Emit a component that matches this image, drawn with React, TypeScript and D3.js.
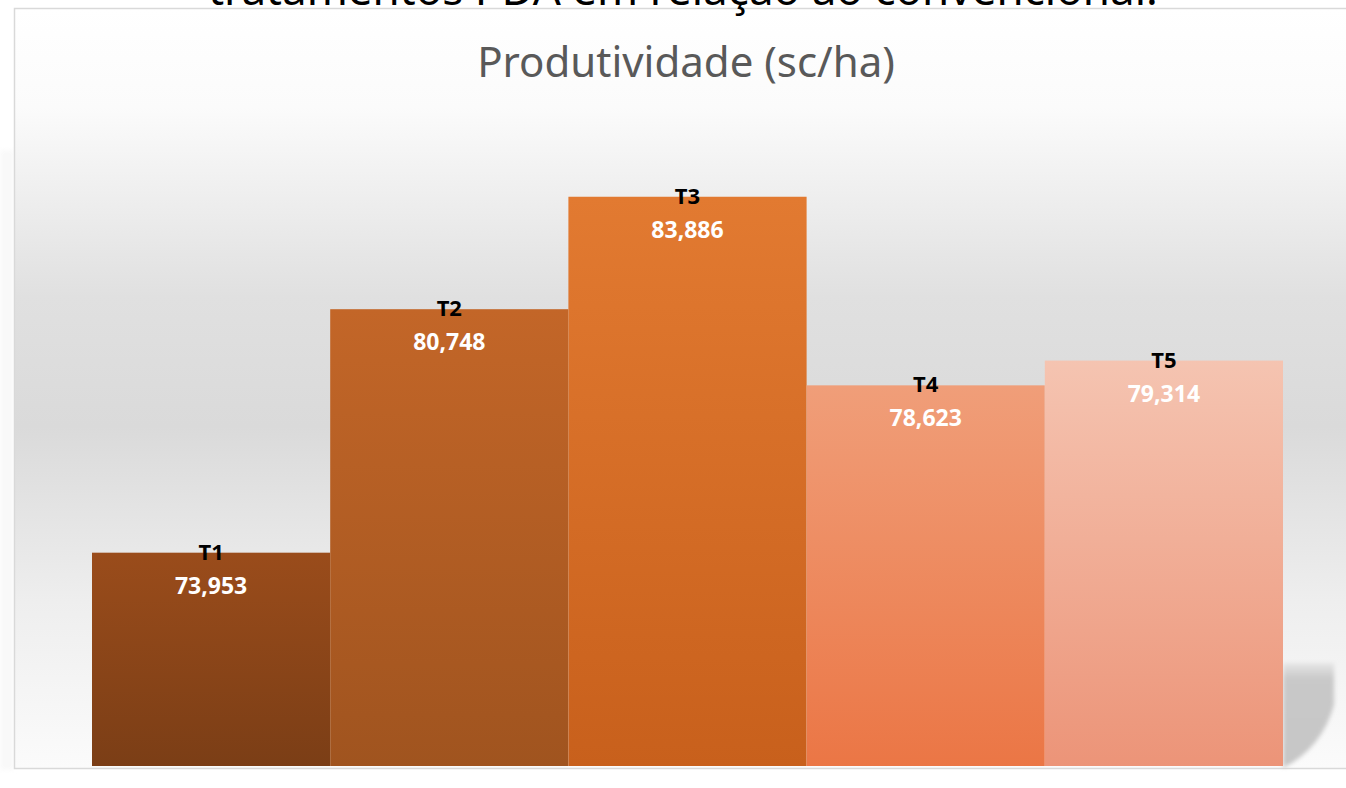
import * as React from 'react';
import * as d3 from 'd3';

const categories = ['T1', 'T2', 'T3', 'T4', 'T5'];
const values = [73.953, 80.748, 83.886, 78.623, 79.314];
const valueLabels = ['73,953', '80,748', '83,886', '78,623', '79,314'];
const topColors = ['#9a4c1b', '#c36628', '#e27a31', '#f09e79', '#f5c4b1'];
const bottomColors = ['#7b3e16', '#a0541f', '#c8601c', '#eb7645', '#ec9478'];

const W = 1346;
const H = 788;

export default function App() {
  const margins = {left: 92, right: 63, top: 121, bottom: 22};
  const x = d3.scaleBand<string>()
    .domain(categories)
    .range([margins.left, W - margins.right])
    .paddingInner(0)
    .paddingOuter(0);
  const y = d3.scaleLinear()
    .domain([68, 86])
    .range([H - margins.bottom, margins.top]);

  // curled-page shadow at the bottom right
  const shadow = d3.path();
  shadow.moveTo(1283, 663);
  shadow.lineTo(1334, 663);
  shadow.lineTo(1334, 705);
  shadow.quadraticCurveTo(1322, 748, 1283, 768);
  shadow.closePath();

  return (
    <div style={{position: 'fixed', left: 0, top: 0, width: W, height: H, overflow: 'hidden'}}>
      <svg width={W} height={H} style={{display: 'block'}}>
        <defs>
          <linearGradient id="bg" x1="0" y1="0" x2="0" y2="1">
            <stop offset="0" stopColor="#ffffff" />
            <stop offset="0.13" stopColor="#fbfbfb" />
            <stop offset="0.38" stopColor="#e0e0e0" />
            <stop offset="0.55" stopColor="#dadada" />
            <stop offset="0.78" stopColor="#eeeeee" />
            <stop offset="1" stopColor="#fbfbfb" />
          </linearGradient>
          <linearGradient id="shade" x1="0" y1="0" x2="0" y2="1">
            <stop offset="0" stopColor="#e6e6e6" />
            <stop offset="0.15" stopColor="#c9c9c9" />
            <stop offset="1" stopColor="#c6c6c6" />
          </linearGradient>
          <filter id="soft" x="-20%" y="-20%" width="140%" height="140%">
            <feGaussianBlur stdDeviation="2" />
          </filter>
          {categories.map((c, i) => (
            <linearGradient key={c} id={`bar${i}`} x1="0" y1="0" x2="0" y2="1">
              <stop offset="0" stopColor={topColors[i]} />
              <stop offset="1" stopColor={bottomColors[i]} />
            </linearGradient>
          ))}
        </defs>

        <rect x={0} y={0} width={W} height={H} fill="#ffffff" />
        <rect x={0} y={150} width={14} height={620} fill="#f6f6f6" opacity={0.6} filter="url(#soft)" />

        <rect x={14.5} y={8.5} width={W + 60} height={760} fill="url(#bg)" stroke="#d9d9d9" strokeWidth={1.5} />

        <path d={shadow.toString()} fill="url(#shade)" filter="url(#soft)" />

        <text x={683} y={5} textAnchor="middle" fontFamily="'Noto Sans', sans-serif"
          fontSize={44} fill="#000000">tratamentos PDA em relação ao convencional:</text>

        <text x={686} y={77} textAnchor="middle" fontFamily="'Noto Sans', sans-serif"
          fontSize={42} fill="#595959">Produtividade (sc/ha)</text>

        {categories.map((c, i) => (
          <rect key={c} x={x(c)} y={y(values[i])} width={x.bandwidth()}
            height={y(68) - y(values[i])} fill={`url(#bar${i})`} />
        ))}

        {categories.map((c, i) => {
          const cx = (x(c) as number) + x.bandwidth() / 2;
          const top = y(values[i]);
          return (
            <g key={c} fontFamily="'Noto Sans', sans-serif" fontWeight="bold" textAnchor="middle">
              <text x={cx} y={top + 7} fontSize={22} fill="#000000">{c}</text>
              <text x={cx} y={top + 41} fontSize={23} fill="#ffffff">{valueLabels[i]}</text>
            </g>
          );
        })}
      </svg>
    </div>
  );
}
